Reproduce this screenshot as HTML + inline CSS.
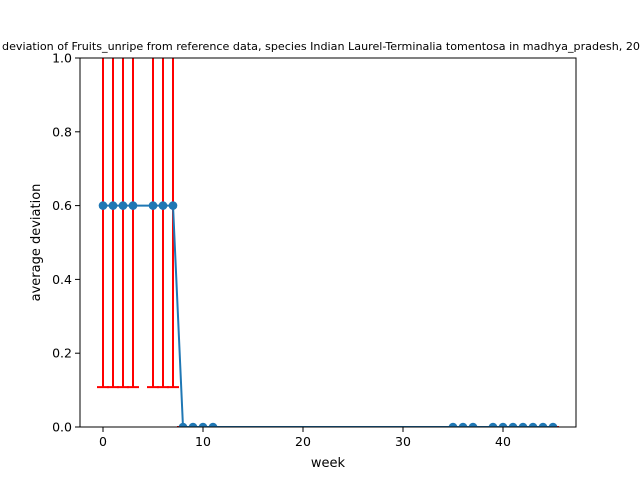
<!DOCTYPE html>
<html><head><meta charset="utf-8"><style>
body{margin:0;background:#fff;}
svg text{font-family:"DejaVu Sans","Liberation Sans",sans-serif;}
</style></head><body>
<svg id="c" width="640" height="480" xmlns="http://www.w3.org/2000/svg">
<rect width="640" height="480" fill="#fff"/>
<text x="2" y="50" font-size="11" textLength="638" lengthAdjust="spacingAndGlyphs">deviation of Fruits_unripe from reference data, species Indian Laurel-Terminalia tomentosa in madhya_pradesh, 20</text>
<g id="plot"></g>
</svg>
<script>
const weeks=[0,1,2,3,5,6,7,8,9,10,11,35,36,37,39,40,41,42,43,44,45];
const values=[0.6,0.6,0.6,0.6,0.6,0.6,0.6,0,0,0,0,0,0,0,0,0,0,0,0,0,0];
const errLow=[0.492,0.492,0.492,0.492,0.492,0.492,0.492,0,0,0,0,0,0,0,0,0,0,0,0,0,0];
const errHigh=[0.6,0.6,0.6,0.6,0.6,0.6,0.6,0,0,0,0,0,0,0,0,0,0,0,0,0,0];
const xTicks=[0,10,20,30,40];
const yTicks=[0.0,0.2,0.4,0.6,0.8,1.0];
const L=80,R=576,T=58,B=427,xmin=-2.3,xmax=47.3;
const X=v=>L+(v-xmin)/(xmax-xmin)*(R-L);
const Y=v=>B-v*(B-T);
const NS="http://www.w3.org/2000/svg";
const g=document.getElementById('plot');
function mk(t,a){const e=document.createElementNS(NS,t);for(const k in a)e.setAttribute(k,a[k]);g.appendChild(e);return e;}
const cp=mk('clipPath',{id:'cp'});
const cr=document.createElementNS(NS,'rect');cr.setAttribute('x',L);cr.setAttribute('y',T);cr.setAttribute('width',R-L);cr.setAttribute('height',B-T);cp.appendChild(cr);
const pg=document.createElementNS(NS,'g');pg.setAttribute('clip-path','url(#cp)');g.appendChild(pg);
function mp(t,a){const e=document.createElementNS(NS,t);for(const k in a)e.setAttribute(k,a[k]);pg.appendChild(e);return e;}
weeks.forEach((w,i)=>{
 const x=X(w),lo=Y(values[i]-errLow[i]),hi=Y(values[i]+errHigh[i]);
 const e=mp('path',{d:`M${x},${lo}V${hi}M${x-6},${lo}H${x+6}M${x-6},${hi}H${x+6}`,stroke:'#ff0000','stroke-width':2,fill:'none'});
 
 
});
const ln=mp('polyline',{points:weeks.map((w,i)=>X(w)+','+Y(values[i])).join(' '),fill:'none',stroke:'#1f77b4','stroke-width':2});


weeks.forEach((w,i)=>{
 const c=mp('circle',{cx:X(w),cy:Y(values[i]),r:4.3,fill:'#1f77b4'});
 
 
});
const fr=mk('rect',{x:L,y:T,width:R-L,height:B-T,fill:'none',stroke:'#000','stroke-width':1});


xTicks.forEach(t=>{
 const x=X(t);
 mk('line',{x1:x,x2:x,y1:B,y2:B+5,stroke:'#000'});
 const tx=mk('text',{x:x,y:B+19,'font-size':12.5,'text-anchor':'middle'});tx.textContent=t;
 
 
});
yTicks.forEach(t=>{
 const y=Y(t);
 mk('line',{x1:L-5,x2:L,y1:y,y2:y,stroke:'#000'});
 const tx=mk('text',{x:L-8,y:y+4.5,'font-size':12.5,'text-anchor':'end'});tx.textContent=t.toFixed(1);
 
 
});
const xl=mk('text',{x:(L+R)/2,y:467,'font-size':13,'text-anchor':'middle'});xl.textContent='week';


const yl=mk('text',{x:0,y:0,'font-size':13,'text-anchor':'middle',transform:`translate(40,${(T+B)/2}) rotate(-90)`});yl.textContent='average deviation';


</script>
</body></html>
